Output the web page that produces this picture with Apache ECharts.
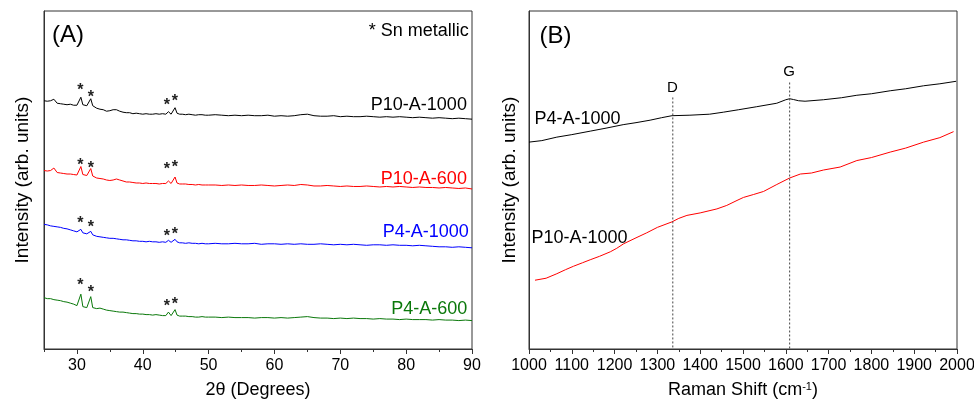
<!DOCTYPE html>
<html><head><meta charset="utf-8">
<script src="https://cdn.jsdelivr.net/npm/echarts@6/dist/echarts.min.js"></script>
<style>html,body{margin:0;padding:0;background:#fff}#c{width:974px;height:406px}</style>
</head><body><div id="c"></div>
<script>
// ---------- Panel A: XRD ----------
const xrdX = [25,25.5,26,26.5,27,27.5,28,28.5,29,29.5,30,
  30.3,30.6,30.9,31.2,31.5,31.8,32.1,32.4,32.7,
  33,33.5,34,34.5,35,35.5,36,36.5,37,37.5,38,38.5,39,39.5,40,40.5,41,41.5,42,42.5,43,43.5,
  43.9,44.3,44.6,44.9,45.2,45.6,
  46,46.5,47,47.5,48,48.5,49,49.5,50,
  51,52,53,54,55,56,57,58,59,60,61,62,63,64,65,66,67,68,69,70,
  71,72,73,74,75,76,77,78,79,80,81,82,83,84,85,86,87,88,89,90];
const xrdP10A1000 = [249,248.5,249,250.5,246.5,246,245.5,245,245.5,244.5,244.5,
  245,252.5,245,244,244,244.5,251,244,243,
  241.5,240.5,240,238.5,239,240,240,238.5,237.5,237,237,236,236.5,236,235.5,236,235.5,235.5,236,235.5,236,235.5,
  238,235.5,236,242,236.5,235.5,
  235.5,235,235.5,235,234.5,235,235,234.5,234.5,
  235,234.5,234,234.5,234,234.5,234,234,234.5,233.5,
  234,233.5,234,235,235.5,234,233.5,233.5,234,233,
  233.5,233,233,233.5,233,232.5,233,232.5,233,232.5,
  232,232.5,232,231.5,232,231.5,231,231.5,231,230.5];
const xrdP10A600 = [179,178.5,179,181.5,177,176.5,176,175.5,175.5,175,174.5,
  175,183,175,174,174,174.5,181,173.5,172.5,
  171.5,171,170.5,169.5,169,169.5,170.5,169.5,168.5,167.5,167.5,167,166.5,166.5,166,166.5,166,166,166,165.5,166,166,
  168.5,166,166.5,172.5,166.5,165.5,
  165.5,165.5,165,165,164.5,165,164.5,164.5,164.5,
  164.5,164,164.5,164,164.5,164,164,164.5,164,163.5,
  164,164.5,164,165,164.5,163.5,163.5,164,163.5,163,
  163.5,163,163,163.5,163,162.5,163,162.5,163,162.5,
  162,162.5,162,162,161.5,162,161.5,161,161.5,160.5];
const xrdP4A1000 = [125,124.5,123.5,123,122.5,122,121,120.5,119.5,118.5,117.5,
  117,120,116.5,116,115.5,115,118,114.5,113.5,
  113,112.5,112,111.5,111,111,110.5,110,109.5,109.5,109,108.5,108.5,108,108,107.5,108,107.5,107.5,107,107.5,107,
  109,107,107.5,110,107.5,106.5,
  106.5,106,106.5,106,106,105.5,106,105.5,105.5,
  106,105.5,105.5,106,105.5,105.5,106,105,105.5,105.5,
  105,105.5,105,105.5,105,105,105.5,105,104.5,105,
  104.5,105,104.5,104,104.5,104.5,104,104.5,104,104,
  103.5,104,103.5,103,102.5,102.5,102,102.5,102,101.5];
const xrdP4A600 = [51.5,50.5,50.5,49.5,49,48.5,47.5,47,46,45,43.5,
  43,55,42.5,41.5,41.5,42,52.5,41.5,40.5,
  40.5,41,40,39,38.5,38,37.5,37,37,36.5,36,35.5,35.5,35,35,34.5,34.5,34,34.5,34,33.5,33.5,
  37,33.5,34,39.5,34,33,
  33,33,32.5,32.5,32,32,32.5,32,32,
  32,31.5,32,31.5,31.5,31.5,31,31.5,31.5,31,
  31.5,31,31.5,32,32.5,31.5,31,31,30.5,31,
  30.5,31,30.5,30.5,30,30.5,30,30,29.5,30,
  29.5,29.5,29.5,29,29.5,29,29,28.5,29,28.5];
const xrdNames = ['P10-A-1000','P10-A-600','P4-A-1000','P4-A-600'];
const xrdColors = ['#000000','#ff0000','#0000ff','#0a780a'];
const xrdLabelX = [89.3, 89.3, 89.6, 89.35];
const xrdLabelY = [244.5, 170, 116.5, 40];
const starX = [30.6, 32.2, 43.75, 44.95];
const starY = [[262.3,255.7,248,251.7],[187.3,184,183.3,185],[129.7,125.7,116.3,118.3],[66.7,60,46.3,48]];
const xrdTicks = [30,40,50,60,70,80,90];

// ---------- Panel B: Raman ----------
const ramanP4A1000X = [1000,1030,1065,1100,1143,1180,1220,1250,1283,1310,1334,1376,1422,1454,1490,1532,1579,1600,1609,1618,1630,1645,1688,1730,1766,1800,1844,1880,1922,1960,1998];
const ramanP4A1000Y = [207.5,209,212.5,215,218.5,221.5,225,227,229.5,232,234,234.5,235.5,237.5,240,243,246.5,250,251,250.2,249,248.5,250,252,254.5,256,259,261,264,266,268.5];
const ramanP10A1000X = [1014,1040,1065,1085,1104,1125,1143,1165,1190,1205,1221,1250,1275,1300,1334,1350,1369,1400,1439,1462,1486,1501,1525,1548,1579,1609,1634,1660,1688,1727,1766,1800,1844,1880,1922,1960,1992];
const ramanP10A1000Y = [69,71,75.5,79.5,83,86.5,89.5,93,97.5,101,105.5,111.5,116.5,122,127.5,131,134,136.5,140.5,144,149,152,155,158,165,171.5,175.5,176.5,179.5,182.5,189,192,197.5,201.5,207.5,212,218];
const ramanNames = ['P4-A-1000','P10-A-1000'];
const ramanColors = ['#000000','#ff0000'];
const ramanLabelX = [1014, 1007];
const ramanLabelY = [230.5, 110.5];
const bandNames = ['D','G'];
const bandPos = [1336, 1609];
const bandLineTop = [252.3, 267.3];
const bandLabelY = [261, 277];

const FONT = '"Liberation Sans", Arial, Helvetica, sans-serif';
const pairs = (xs, ys) => xs.map((x, i) => [x, ys[i]]);

const chart = echarts.init(document.getElementById('c'), null, {renderer: 'canvas'});

function textSeries(xIdx, yIdx, items, size) {
  return {
    type: 'scatter', xAxisIndex: xIdx, yAxisIndex: yIdx, symbolSize: 1, silent: true,
    itemStyle: {color: 'transparent', opacity: 1}, z: 5,
    data: items.map(it => ({
      value: [it.x, it.y],
      label: {show: true, formatter: it.text, position: [0, 0], align: it.align || 'left',
        verticalAlign: 'middle', color: it.color || '#000', fontSize: it.size || size,
        fontWeight: it.weight || 'normal', textBorderWidth: 0, textShadowBlur: 0, opacity: 1,
        fontFamily: FONT, offset: it.offset || [0, 0]}
    }))
  };
}

const series = [];
const xrdSets = [xrdP10A1000, xrdP10A600, xrdP4A1000, xrdP4A600];
xrdSets.forEach((ys, i) => {
  series.push({type: 'line', xAxisIndex: 0, yAxisIndex: 0, data: pairs(xrdX, ys), showSymbol: false,
    lineStyle: {color: xrdColors[i], width: 1}, itemStyle: {color: xrdColors[i]}, animation: false});
});
const starItems = [];
starY.forEach(ys => ys.forEach((y, j) => starItems.push({x: starX[j], y: y, text: '*', align: 'center', size: 16, weight: 'bold', offset: [0, 4], color: '#222'})));
series.push(textSeries(0, 0, starItems, 16));
const xrdLabelItems = xrdNames.map((n, i) => ({x: xrdLabelX[i], y: xrdLabelY[i], text: n, align: 'right', color: xrdColors[i]}));
xrdLabelItems.push({x: 89.6, y: 318, text: '* Sn metallic', align: 'right', color: '#000'});
xrdLabelItems.push({x: 26.3, y: 314, text: '(A)', align: 'left', color: '#000', size: 24});
series.push(textSeries(0, 0, xrdLabelItems, 18));

[pairs(ramanP4A1000X, ramanP4A1000Y), pairs(ramanP10A1000X, ramanP10A1000Y)].forEach((d, i) => {
  series.push({type: 'line', xAxisIndex: 2, yAxisIndex: 1, data: d, showSymbol: false,
    lineStyle: {color: ramanColors[i], width: 1}, itemStyle: {color: ramanColors[i]}, animation: false});
});
bandPos.forEach((x, i) => {
  series.push({type: 'line', xAxisIndex: 2, yAxisIndex: 1, data: [[x, bandLineTop[i]], [x, 0]], showSymbol: false,
    lineStyle: {color: '#444', width: 1, type: [2, 2]}, animation: false});
});
const ramanLabelItems = ramanNames.map((n, i) => ({x: ramanLabelX[i], y: ramanLabelY[i], text: n, align: 'left', color: '#000'}));
bandNames.forEach((n, i) => ramanLabelItems.push({x: bandPos[i], y: bandLabelY[i], text: n, align: 'center', size: 15}));
ramanLabelItems.push({x: 1025.7, y: 313, text: '(B)', align: 'left', color: '#000', size: 24});
series.push(textSeries(2, 1, ramanLabelItems, 18));

const axisLineStyle = {show: true, lineStyle: {color: '#333', width: 1}};
const labelStyle = {color: '#000', fontSize: 16, fontFamily: FONT, margin: 9, formatter: v => String(v)};
const nameStyle = {color: '#000', fontSize: 18, fontFamily: FONT};

chart.setOption({
  animation: false,
  backgroundColor: '#fff',
  grid: [
    {left: 44, top: 11, width: 428, height: 338, show: true, borderColor: '#333', borderWidth: 1, containLabel: false, outerBoundsMode: 'none'},
    {left: 529, top: 11, width: 428, height: 338, show: true, borderColor: '#333', borderWidth: 1, containLabel: false, outerBoundsMode: 'none'}
  ],
  xAxis: [
    {type: 'value', gridIndex: 0, position: 'bottom', min: 25, max: 90, interval: 5, axisLine: axisLineStyle,
      axisTick: {show: true, length: 3, lineStyle: {color: '#333'}}, axisLabel: {show: false}, splitLine: {show: false}},
    {type: 'value', gridIndex: 0, position: 'bottom', offset: 0, min: 25, max: 90, interval: 5, axisLine: {show: false},
      axisTick: {show: true, length: 5, customValues: xrdTicks, lineStyle: {color: '#333'}},
      axisLabel: Object.assign({customValues: xrdTicks}, labelStyle), splitLine: {show: false},
      name: '2θ (Degrees)', nameLocation: 'middle', nameGap: 32, nameTextStyle: nameStyle},
    {type: 'value', gridIndex: 1, position: 'bottom', min: 1000, max: 2000, interval: 100, axisLine: axisLineStyle,
      axisTick: {show: true, length: 5, lineStyle: {color: '#333'}},
      minorTick: {show: true, splitNumber: 2, length: 3, lineStyle: {color: '#333'}},
      axisLabel: labelStyle, splitLine: {show: false},
      name: 'Raman Shift (cm{sup|-1})', nameLocation: 'middle', nameGap: 32,
      nameTextStyle: Object.assign({rich: {sup: {fontSize: 11, fontFamily: FONT, color: '#000', verticalAlign: 'top', padding: [0, 0, 8, 0]}}}, nameStyle)}
  ],
  yAxis: [
    {type: 'value', gridIndex: 0, min: 0, max: 339, axisLine: axisLineStyle, axisTick: {show: false},
      axisLabel: {show: false}, splitLine: {show: false},
      name: 'Intensity (arb. units)', nameLocation: 'middle', nameGap: 12, nameTextStyle: Object.assign({}, nameStyle, {fontSize: 19})},
    {type: 'value', gridIndex: 1, min: 0, max: 339, axisLine: axisLineStyle, axisTick: {show: false},
      axisLabel: {show: false}, splitLine: {show: false},
      name: 'Intensity (arb. units)', nameLocation: 'middle', nameGap: 10, nameTextStyle: Object.assign({}, nameStyle, {fontSize: 19})}
  ],
  series: series
});
</script>
</body></html>
